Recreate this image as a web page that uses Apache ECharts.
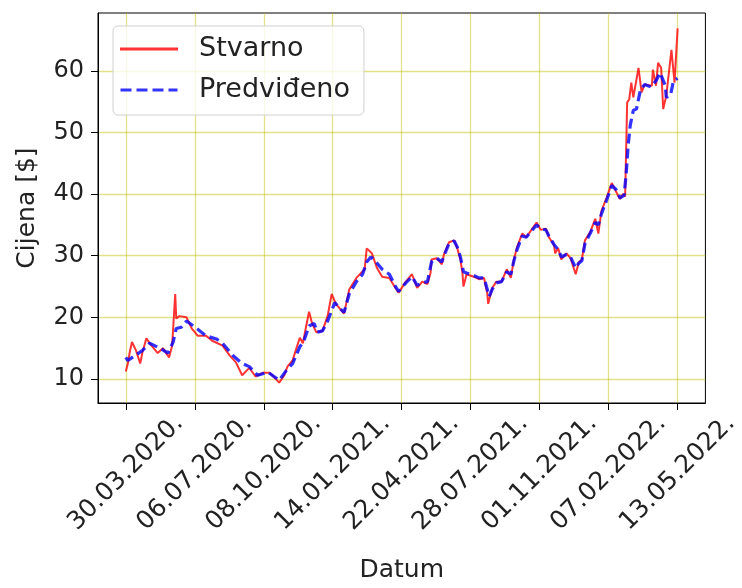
<!DOCTYPE html>
<html>
<head>
<meta charset="utf-8">
<script src="https://cdn.jsdelivr.net/npm/echarts@6/dist/echarts.min.js"></script>
<style>
html,body{margin:0;padding:0;background:#fff;overflow:hidden;width:742px;height:588px;}
#chart{width:742px;height:588px;overflow:hidden;}
</style>
</head>
<body>
<div id="chart"></div>
<script>
// Tick positions (trading-day index) and their date labels
const tickDays = [0, 67, 134, 201, 268, 335, 402, 469, 536];
const tickLabels = ['30.03.2020.', '06.07.2020.', '08.10.2020.', '14.01.2021.', '22.04.2021.', '28.07.2021.', '01.11.2021.', '07.02.2022.', '13.05.2022.'];
const yTicks = [10, 20, 30, 40, 50, 60];

// Actual price (Stvarno)
const actualDays = [
  0,2,4,6,10,14,16,20,25,31,
  36,42,45,48,49,52,59,64,70,78,
  84,94,101,107,113,120,126,133,140,149,
  154,157,162,165,169,172,175,178,181,185,
  191,196,200,204,212,217,224,232,234,239,
  244,249,256,261,265,272,278,283,288,293,
  296,297,302,307,309,314,319,322,325,327,
  328,331,338,343,348,351,352,356,360,365,
  370,374,377,380,385,389,394,399,403,408,
  411,416,417,420,423,428,432,437,440,443,
  446,451,456,459,462,467,472,475,480,483,
  485,487,489,491,493,498,501,504,511,512,
  515,517,520,522,525,530,533,536];
const actualPrice = [
  11.2,12.5,14.5,16.0,14.6,12.5,14.2,16.6,15.4,14.2,
  15.0,13.5,15.4,23.8,19.8,20.2,20.0,18.2,17.0,17.0,
  16.2,15.4,13.8,12.7,10.6,11.8,10.4,11.0,11.0,9.4,
  10.6,12.0,13.0,14.6,16.7,15.8,18.4,20.9,19.0,17.6,
  17.8,20.2,23.8,22.2,20.6,24.5,26.4,27.8,31.2,30.4,
  28.0,26.6,26.4,25.0,24.0,25.8,27.0,24.8,25.8,25.4,
  27.2,29.4,29.6,28.6,30.2,32.2,32.5,31.2,29.4,27.2,
  25.0,27.0,26.6,26.2,26.4,24.0,22.2,24.8,25.8,25.8,
  27.8,26.4,29.4,31.4,33.6,33.0,34.2,35.4,34.2,34.4,
  33.0,31.7,30.4,31.2,29.4,30.4,29.6,27.0,29.0,29.4,
  32.5,33.8,36.0,33.6,37.3,39.4,41.8,40.8,39.2,40.0,
  39.6,54.9,55.4,58.1,55.7,60.5,56.5,57.8,57.6,60.2,
  57.6,61.3,60.5,53.8,56.0,63.4,58.1,66.9];

// Predicted price (Predviđeno)
const predDays = [
  0,2,9,16,23,33,41,46,49,54,
  59,69,78,88,94,104,113,120,128,138,
  149,156,162,169,173,178,183,186,191,196,
  203,207,212,217,224,230,234,238,243,249,
  256,262,265,272,278,283,288,293,297,302,
  307,309,314,319,322,325,328,331,338,343,
  348,351,353,356,360,365,370,374,377,380,
  385,389,394,399,403,408,411,416,420,423,
  428,432,437,440,443,446,451,456,459,462,
  467,472,476,480,484,486,488,490,493,496,
  500,504,510,515,519,524,525,529,532,536];
const predPrice = [
  13.5,13.0,13.8,14.6,15.8,15.0,14.2,16.0,18.2,18.4,
  19.4,18.2,17.0,16.5,15.8,13.8,12.5,12.0,10.6,11.1,
  9.8,11.4,12.5,15.2,16.2,18.6,19.0,17.6,17.8,19.4,
  22.4,21.6,20.8,23.8,25.8,27.0,29.0,29.8,29.0,27.8,
  27.0,25.0,24.2,25.6,26.6,25.2,25.6,25.8,29.0,29.6,
  29.0,30.0,32.0,32.4,31.4,29.8,27.4,27.2,26.8,26.4,
  26.4,24.6,23.4,24.6,25.6,25.8,27.4,27.0,29.2,31.0,
  33.2,33.0,34.0,35.0,34.4,34.2,33.2,31.8,31.0,29.8,
  30.2,29.8,28.0,28.8,29.2,32.0,33.6,35.4,35.0,36.8,
  39.0,41.4,40.8,39.4,39.8,43.2,48.0,51.2,53.6,53.8,
  57.0,57.8,57.4,58.4,59.7,57.6,55.7,56.0,58.4,58.8];

function zip(a, b) {
  const n = Math.min(a.length, b.length);
  const out = [];
  for (let i = 0; i < n; i++) out.push([a[i], b[i]]);
  return out;
}

const FONT = "'DejaVu Sans', sans-serif";
const gridColor = 'rgba(191,191,0,0.45)';
const solidIcon = 'path://M0,0H58V3H0Z';
const dashIcon = 'path://M1,0H12V3H1Z M17,0H28V3H17Z M33,0H44V3H33Z M49,0H58V3H49Z';

const chart = echarts.init(document.getElementById('chart'), null, {renderer: 'canvas', width: 742, height: 588});
chart.setOption({
  animation: false,
  backgroundColor: '#fff',
  textStyle: {fontFamily: FONT},
  grid: {left: 98, right: 33, top: 13, bottom: 179, show: true, borderColor: '#000', borderWidth: 1, containLabel: false},
  legend: {
    orient: 'vertical', left: 113, top: 26,
    padding: [9, 14, 11, 7], itemGap: 13,
    itemWidth: 58, itemHeight: 3,
    backgroundColor: 'rgba(255,255,255,0.8)', borderColor: '#d0d0d0', borderWidth: 1, borderRadius: 5,
    textStyle: {fontSize: 27, color: '#222', fontFamily: FONT, padding: [0, 0, 0, 16], lineHeight: 28},
    data: [
      {name: 'Stvarno', icon: solidIcon, itemStyle: {color: 'rgba(255,0,0,0.8)'}},
      {name: 'Predviđeno', icon: dashIcon, itemStyle: {color: 'rgba(0,0,255,0.8)'}}
    ]
  },
  xAxis: {
    type: 'value', min: -27, max: 563,
    name: 'Datum', nameLocation: 'middle', nameGap: 155,
    nameTextStyle: {fontSize: 25, color: '#222', fontFamily: FONT},
    axisLine: {show: true, onZero: false, lineStyle: {color: '#000'}},
    axisTick: {show: true, length: 7, customValues: tickDays, lineStyle: {color: '#000'}},
    axisLabel: {
      customValues: tickDays, rotate: 45, fontSize: 25, color: '#222', fontFamily: FONT,
      align: 'center', verticalAlign: 'middle', margin: 70,
      formatter: v => { const i = tickDays.indexOf(v); return i >= 0 ? tickLabels[i] : ''; }
    },
    splitLine: {show: true, lineStyle: {color: gridColor, width: 1.3}}
  },
  yAxis: {
    type: 'value', min: 6.1, max: 69.4,
    name: 'Cijena [$]', nameLocation: 'middle', nameGap: 58,
    nameTextStyle: {fontSize: 25, color: '#222', fontFamily: FONT},
    axisLine: {show: true, onZero: false, lineStyle: {color: '#000'}},
    axisTick: {show: true, length: 7, customValues: yTicks, lineStyle: {color: '#000'}},
    axisLabel: {customValues: yTicks, fontSize: 24, color: '#222', fontFamily: FONT, margin: 14},
    splitLine: {show: true, lineStyle: {color: gridColor, width: 1.3}}
  },
  series: [
    {
      name: 'Stvarno', type: 'line', data: zip(actualDays, actualPrice),
      showSymbol: false, symbol: 'none',
      lineStyle: {color: 'rgba(255,0,0,0.8)', width: 2},
      itemStyle: {color: 'rgba(255,0,0,0.8)'}
    },
    {
      name: 'Predviđeno', type: 'line', data: zip(predDays, predPrice),
      showSymbol: false, symbol: 'none',
      lineStyle: {color: 'rgba(0,0,255,0.8)', width: 3.2, type: [10, 5]},
      itemStyle: {color: 'rgba(0,0,255,0.8)'}
    }
  ]
});
</script>
</body>
</html>
